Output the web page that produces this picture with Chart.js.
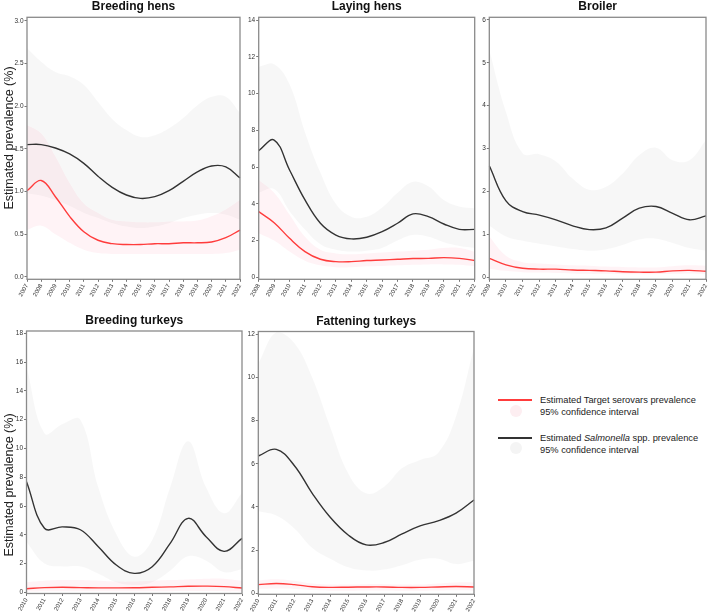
<!DOCTYPE html>
<html lang="en">
  <head>
    <meta charset="utf-8" />
    <title>Estimated prevalence</title>
    <style>
      * { margin: 0; padding: 0; }
      body {
        width: 709px;
        height: 613px;
        overflow: hidden;
        background: #fff;
        position: relative;
        font-family: "Liberation Sans", Arial, sans-serif;
      }
      canvas { position: absolute; }
      .legend-line { position: absolute; height: 1.6px; width: 34px; }
      .legend-dot { position: absolute; width: 12px; height: 12px; border-radius: 50%; }
      .legend-text { position: absolute; font-size: 9.3px; line-height: 12.3px; color: #222; white-space: nowrap; }
    </style>
  </head>
  <body>
    <canvas id="bh" width="250" height="300" style="left:0;top:0"></canvas>
    <canvas id="lh" width="245" height="300" style="left:240px;top:0"></canvas>
    <canvas id="br" width="240" height="300" style="left:476px;top:0"></canvas>
    <canvas id="bt" width="252" height="313" style="left:0;top:300px"></canvas>
    <canvas id="ft" width="244" height="313" style="left:240px;top:300px"></canvas>

    <div class="legend-line" style="left:498px;top:399px;background:#ff3c3c"></div>
    <div class="legend-dot" style="left:510px;top:405px;background:#fdeef1"></div>
    <div class="legend-text" style="left:540px;top:394px">Estimated Target serovars prevalence<br />95% confidence interval</div>

    <div class="legend-line" style="left:498px;top:437px;background:#333"></div>
    <div class="legend-dot" style="left:510px;top:442px;background:#f4f4f4"></div>
    <div class="legend-text" style="left:540px;top:431.5px">Estimated <i>Salmonella</i> spp. prevalence<br />95% confidence interval</div>

    <script src="https://cdn.jsdelivr.net/npm/chart.js/dist/chart.umd.min.js"></script>
    <script>
      // Breeding hens
      const bhYears = [2007, 2008, 2009, 2010, 2011, 2012, 2013, 2014, 2015, 2016, 2017, 2018, 2019, 2020, 2021, 2022];
      const bhSal = [1.55, 1.55, 1.51, 1.44, 1.33, 1.18, 1.05, 0.96, 0.92, 0.94, 1.01, 1.12, 1.23, 1.30, 1.29, 1.16];
      const bhSalHi = [2.68, 2.52, 2.40, 2.35, 2.25, 2.05, 1.85, 1.72, 1.64, 1.66, 1.74, 1.86, 2.01, 2.11, 2.11, 1.92];
      const bhSalLo = [0.98, 0.95, 0.90, 0.83, 0.75, 0.69, 0.63, 0.59, 0.57, 0.59, 0.63, 0.69, 0.73, 0.75, 0.73, 0.67];
      const bhTgt = [1.01, 1.13, 0.94, 0.71, 0.53, 0.43, 0.39, 0.38, 0.38, 0.39, 0.39, 0.40, 0.40, 0.41, 0.46, 0.55];
      const bhTgtHi = [1.78, 1.68, 1.41, 1.10, 0.86, 0.75, 0.67, 0.65, 0.64, 0.64, 0.65, 0.65, 0.66, 0.71, 0.79, 0.90];
      const bhTgtLo = [0.55, 0.60, 0.50, 0.40, 0.32, 0.28, 0.27, 0.27, 0.27, 0.27, 0.27, 0.27, 0.27, 0.27, 0.28, 0.32];
      const bhTicks = [0, 0.5, 1.0, 1.5, 2.0, 2.5, 3.0];

      // Laying hens
      const lhYears = [2008, 2009, 2010, 2011, 2012, 2013, 2014, 2015, 2016, 2017, 2018, 2019, 2020, 2021, 2022];
      const lhSal = [6.89, 7.47, 5.84, 4.21, 2.94, 2.30, 2.09, 2.18, 2.48, 2.94, 3.45, 3.30, 2.90, 2.61, 2.61];
      const lhSalHi = [11.46, 11.6, 10.5, 7.9, 5.7, 4.0, 3.3, 3.3, 3.8, 4.6, 5.2, 4.95, 4.2, 3.85, 3.75];
      const lhSalLo = [4.6, 4.8, 3.6, 2.6, 1.8, 1.5, 1.4, 1.45, 1.6, 2.0, 2.3, 2.2, 1.9, 1.7, 1.6];
      const lhTgt = [3.57, 2.97, 2.12, 1.40, 0.98, 0.85, 0.85, 0.91, 0.94, 0.98, 1.02, 1.03, 1.07, 1.03, 0.91];
      const lhTgtHi = [5.3, 4.6, 3.4, 2.2, 1.5, 1.3, 1.25, 1.3, 1.35, 1.4, 1.45, 1.5, 1.6, 1.6, 1.4];
      const lhTgtLo = [2.4, 2.0, 1.4, 0.9, 0.65, 0.55, 0.55, 0.6, 0.62, 0.65, 0.68, 0.7, 0.7, 0.68, 0.6];
      const lhTicks = [0, 2, 4, 6, 8, 10, 12, 14];

      // Broiler
      const brYears = [2009, 2010, 2011, 2012, 2013, 2014, 2015, 2016, 2017, 2018, 2019, 2020, 2021, 2022];
      const brSal = [2.60, 1.78, 1.53, 1.45, 1.34, 1.20, 1.11, 1.15, 1.38, 1.61, 1.65, 1.49, 1.34, 1.43];
      const brSalHi = [5.3, 3.85, 2.89, 2.87, 2.70, 2.30, 2.04, 2.11, 2.42, 2.85, 3.02, 2.73, 2.73, 3.2];
      const brSalLo = [1.2, 0.95, 0.85, 0.78, 0.72, 0.66, 0.62, 0.65, 0.75, 0.88, 0.9, 0.8, 0.68, 0.62];
      const brTgt = [0.44, 0.29, 0.21, 0.19, 0.19, 0.17, 0.16, 0.15, 0.13, 0.12, 0.12, 0.15, 0.16, 0.14];
      const brTgtHi = [0.95, 0.5, 0.35, 0.32, 0.3, 0.28, 0.27, 0.25, 0.24, 0.23, 0.23, 0.26, 0.28, 0.27];
      const brTgtLo = [0.2, 0.15, 0.12, 0.11, 0.1, 0.09, 0.08, 0.08, 0.07, 0.07, 0.07, 0.08, 0.09, 0.08];
      const brTicks = [0, 1, 2, 3, 4, 5, 6];

      // Breeding turkeys
      const btYears = [2010, 2011, 2012, 2013, 2014, 2015, 2016, 2017, 2018, 2019, 2020, 2021, 2022];
      const btSal = [7.69, 4.45, 4.55, 4.35, 3.17, 1.90, 1.32, 1.78, 3.40, 5.14, 3.87, 2.85, 3.75];
      const btSalHi = [15.7, 11.05, 11.7, 12.0, 7.3, 4.05, 2.48, 3.64, 7.3, 10.5, 7.3, 5.5, 6.9];
      const btSalLo = [3.5, 2.0, 1.8, 1.8, 1.3, 0.7, 0.5, 0.7, 1.5, 2.5, 2.2, 1.4, 1.6];
      const btTgt = [0.25, 0.33, 0.35, 0.33, 0.31, 0.31, 0.32, 0.35, 0.38, 0.42, 0.43, 0.40, 0.30];
      const btTgtHi = [0.7, 0.8, 0.85, 0.85, 0.8, 0.75, 0.75, 0.8, 0.85, 0.9, 0.95, 0.95, 0.8];
      const btTgtLo = [0.05, 0.08, 0.08, 0.08, 0.07, 0.07, 0.07, 0.08, 0.08, 0.09, 0.09, 0.08, 0.05];
      const btTicks = [0, 2, 4, 6, 8, 10, 12, 14, 16, 18];

      // Fattening turkeys
      const ftYears = [2010, 2011, 2012, 2013, 2014, 2015, 2016, 2017, 2018, 2019, 2020, 2021, 2022];
      const ftSal = [6.36, 6.67, 5.92, 4.63, 3.52, 2.70, 2.24, 2.35, 2.75, 3.12, 3.35, 3.71, 4.32];
      const ftSalHi = [10.65, 12.1, 11.6, 10.0, 7.7, 5.56, 4.63, 4.94, 5.8, 6.18, 6.5, 8.2, 11.4];
      const ftSalLo = [3.8, 3.6, 3.0, 2.1, 1.6, 1.2, 1.05, 1.1, 1.3, 1.55, 1.6, 1.35, 1.5];
      const ftTgt = [0.40, 0.45, 0.40, 0.30, 0.27, 0.28, 0.29, 0.29, 0.27, 0.27, 0.29, 0.31, 0.29];
      const ftTgtHi = [0.6, 0.65, 0.58, 0.45, 0.4, 0.4, 0.42, 0.42, 0.4, 0.4, 0.45, 0.5, 0.5];
      const ftTgtLo = [0.2, 0.22, 0.2, 0.15, 0.12, 0.12, 0.13, 0.13, 0.12, 0.12, 0.13, 0.14, 0.12];
      const ftTicks = [0, 2, 4, 6, 8, 10, 12];

      const RED = "#ff3c3c";
      const BLACK = "#333333";
      const PINK = "rgba(255, 40, 90, 0.055)";
      const GREY = "rgba(0, 0, 0, 0.03)";
      const FONT = '"Liberation Sans", Arial, sans-serif';

      // frame round the plot area, panel title, optional y title
      const panelDecor = {
        id: "panelDecor",
        afterDraw(chart, args, opts) {
          const { ctx, chartArea: a } = chart;
          ctx.save();
          ctx.strokeStyle = "#8a8a8a";
          ctx.lineWidth = 1.3;
          ctx.strokeRect(a.left, a.top, a.right - a.left, a.bottom - a.top);
          ctx.fillStyle = "#111";
          ctx.font = "bold 12px " + FONT;
          ctx.textAlign = "center";
          ctx.textBaseline = "alphabetic";
          ctx.fillText(opts.title, (a.left + a.right) / 2, a.top - 7);
          if (opts.yTitle) {
            ctx.translate(opts.yTitleX, opts.yTitleY);
            ctx.rotate(-Math.PI / 2);
            ctx.font = "12.5px " + FONT;
            ctx.fillStyle = "#222";
            ctx.textBaseline = "middle";
            ctx.fillText(opts.yTitle, 0, 0);
          }
          ctx.restore();
        },
      };

      function band(data, extra) {
        return Object.assign(
          {
            data,
            pointRadius: 0,
            borderWidth: 0,
            borderColor: "transparent",
            tension: 0.4,
            fill: false,
          },
          extra
        );
      }

      function makePanel(id, p) {
        return new Chart(document.getElementById(id), {
          type: "line",
          data: {
            labels: p.years.map(String),
            datasets: [
              band(p.tgt, { borderColor: RED, borderWidth: 1.4 }),
              band(p.sal, { borderColor: BLACK, borderWidth: 1.4 }),
              band(p.tgtHi),
              band(p.tgtLo, { fill: "-1", backgroundColor: PINK }),
              band(p.salHi),
              band(p.salLo, { fill: "-1", backgroundColor: GREY }),
            ],
          },
          options: {
            responsive: false,
            animation: false,
            events: [],
            layout: { padding: p.pad },
            plugins: {
              legend: { display: false },
              tooltip: { enabled: false },
              panelDecor: {
                title: p.title,
                yTitle: p.yTitle,
                yTitleX: p.yTitleX,
                yTitleY: p.yTitleY,
              },
            },
            scales: {
              x: {
                offset: false,
                grid: { drawOnChartArea: false, drawTicks: true, tickLength: 2.5, color: "#777" },
                border: { display: false },
                ticks: {
                  autoSkip: false,
                  minRotation: 60,
                  maxRotation: 60,
                  padding: 1,
                  color: "#333",
                  font: { size: 6, family: FONT },
                },
                afterFit: (s) => { s.height = p.xH; },
              },
              y: {
                min: p.yMin,
                max: p.yMax,
                grid: { drawOnChartArea: false, drawTicks: true, tickLength: 2.5, color: "#777" },
                border: { display: false },
                ticks: {
                  padding: 1,
                  color: "#333",
                  font: { size: 6.5, family: FONT },
                  callback: p.fmt,
                },
                afterBuildTicks: (s) => { s.ticks = p.ticks.map((v) => ({ value: v })); },
                afterFit: (s) => { s.width = p.yW; },
              },
            },
          },
          plugins: [panelDecor],
        });
      }

      makePanel("bh", {
        title: "Breeding hens", years: bhYears, ticks: bhTicks,
        sal: bhSal, salHi: bhSalHi, salLo: bhSalLo, tgt: bhTgt, tgtHi: bhTgtHi, tgtLo: bhTgtLo,
        yMin: -0.027, yMax: 3.04, fmt: (v) => v.toFixed(1),
        pad: { top: 17.3, right: 10, bottom: 0, left: 0 }, yW: 27, xH: 20.7,
        yTitle: "Estimated prevalence (%)", yTitleX: 10, yTitleY: 138,
      });
      makePanel("lh", {
        title: "Laying hens", years: lhYears, ticks: lhTicks,
        sal: lhSal, salHi: lhSalHi, salLo: lhSalLo, tgt: lhTgt, tgtHi: lhTgtHi, tgtLo: lhTgtLo,
        yMin: -0.11, yMax: 14.15, fmt: (v) => String(v),
        pad: { top: 17.3, right: 10.3, bottom: 0, left: 0 }, yW: 18.7, xH: 20.7,
      });
      makePanel("br", {
        title: "Broiler", years: brYears, ticks: brTicks,
        sal: brSal, salHi: brSalHi, salLo: brSalLo, tgt: brTgt, tgtHi: brTgtHi, tgtLo: brTgtLo,
        yMin: -0.047, yMax: 6.06, fmt: (v) => String(v),
        pad: { top: 17.3, right: 10, bottom: 0, left: 0 }, yW: 13.3, xH: 20.7,
      });
      makePanel("bt", {
        title: "Breeding turkeys", years: btYears, ticks: btTicks,
        sal: btSal, salHi: btSalHi, salLo: btSalLo, tgt: btTgt, tgtHi: btTgtHi, tgtLo: btTgtLo,
        yMin: -0.08, yMax: 18.16, fmt: (v) => String(v),
        pad: { top: 31, right: 10, bottom: 0, left: 0 }, yW: 26.5, xH: 19.5,
        yTitle: "Estimated prevalence (%)", yTitleX: 10, yTitleY: 185,
      });
      makePanel("ft", {
        title: "Fattening turkeys", years: ftYears, ticks: ftTicks,
        sal: ftSal, salHi: ftSalHi, salLo: ftSalLo, tgt: ftTgt, tgtHi: ftTgtHi, tgtLo: ftTgtLo,
        yMin: -0.05, yMax: 12.13, fmt: (v) => String(v),
        pad: { top: 31.5, right: 10, bottom: 0, left: 0 }, yW: 18.3, xH: 18.7,
      });
    </script>
  </body>
</html>
